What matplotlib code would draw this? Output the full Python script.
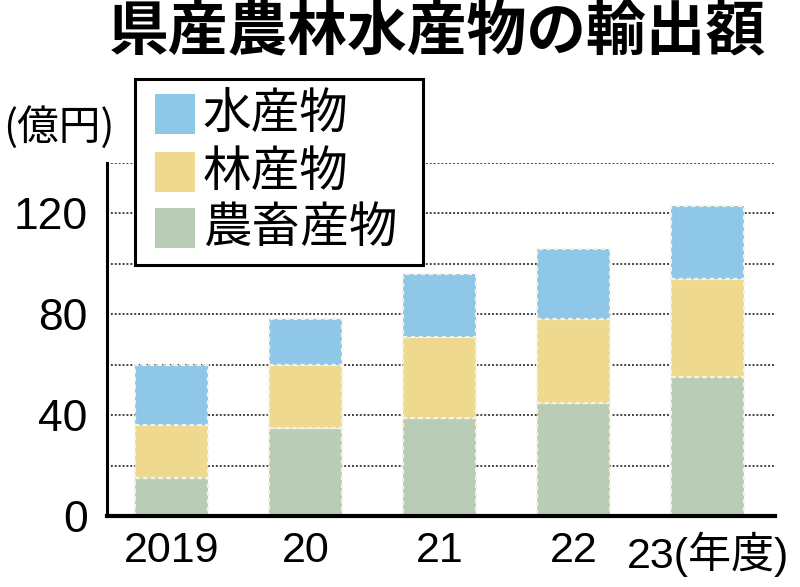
import matplotlib
matplotlib.use("Agg")
import matplotlib.pyplot as plt
from matplotlib import font_manager
from matplotlib.patches import Rectangle
import numpy as np

years = ["2019", "20", "21", "22", "23(年度)"]
agri = [15, 35, 39, 45, 55]       # 農畜産物
forest = [21, 25, 32, 33, 39]     # 林産物
water = [24, 18, 25, 28, 29]      # 水産物
series_names = ["水産物", "林産物", "農畜産物"]
yticks = [0, 40, 80, 120]
title = "県産農林水産物の輸出額"
unit = "(億円)"

c_agri = "#b9cdb6"
c_forest = "#efd98e"
c_water = "#8fc7e8"

names = {f.name for f in font_manager.fontManager.ttflist}
num_font = "Liberation Sans Narrow" if "Liberation Sans Narrow" in names else "Liberation Sans"
cjk = "Noto Sans CJK JP"
plt.rcParams['font.family'] = [cjk, 'DejaVu Sans']

W, H = 800, 587
fig = plt.figure(figsize=(W / 100, H / 100), dpi=100)

def fx(x):
    return x / W

def fy(y):
    return 1 - y / H

ax = fig.add_axes([fx(107), fy(516), fx(775) - fx(107), fy(163) - fy(516)])

x = np.arange(len(years))
bw = 0.545
edge = dict(edgecolor="#f6f2e4", linewidth=1.6, linestyle=(0, (2, 1.5)))
ax.bar(x, agri, bw, color=c_agri, zorder=3, **edge)
b1 = np.array(agri)
ax.bar(x, forest, bw, bottom=b1, color=c_forest, zorder=3, **edge)
b2 = b1 + np.array(forest)
ax.bar(x, water, bw, bottom=b2, color=c_water, zorder=3, **edge)

ax.set_xlim(-0.48, 4.5)
ax.set_ylim(0, 140)
ax.set_yticks(yticks)
ax.set_yticklabels([str(v) for v in yticks], fontsize=32, family=[num_font, cjk])
ax.set_xticks(x)
ax.set_xticklabels(years, family=[num_font, cjk], fontsize=31)
ax.tick_params(axis="y", length=0, pad=14)
ax.tick_params(axis="x", length=0, pad=11)

for v in range(20, 141, 20):
    ax.axhline(v, color="#444444", linewidth=1.4, linestyle=(0, (1, 1)), zorder=1)

for s in ["top", "right"]:
    ax.spines[s].set_visible(False)
ax.spines["left"].set_linewidth(2.2)
ax.spines["bottom"].set_linewidth(3)
ax.spines["left"].set_zorder(5)
ax.spines["bottom"].set_zorder(5)

# title and unit
fig.text(fx(437), fy(32), title, fontsize=43, fontweight="bold",
         ha="center", va="center", family=[cjk])
fig.text(fx(3), fy(127), unit, fontsize=30, ha="left", va="center",
         family=[cjk])

# legend box
lx0, ly0, lx1, ly1 = 135, 79, 423, 265
fig.add_artist(Rectangle((fx(lx0), fy(ly1)), fx(lx1) - fx(lx0), fy(ly0) - fy(ly1),
                         transform=fig.transFigure, facecolor="white",
                         edgecolor="black", linewidth=2.2, zorder=10))
rows = [114, 172, 228]
cols = [c_water, c_forest, c_agri]
for ry, col, name in zip(rows, cols, series_names):
    fig.add_artist(Rectangle((fx(155), fy(ry + 20)), fx(40), 40 / H,
                             transform=fig.transFigure, facecolor=col,
                             edgecolor="none", zorder=11))
    fig.text(fx(203), fy(ry), name, fontsize=35, ha="left", va="center",
             family=[cjk], zorder=12)

fig.savefig("out.png", dpi=100)
